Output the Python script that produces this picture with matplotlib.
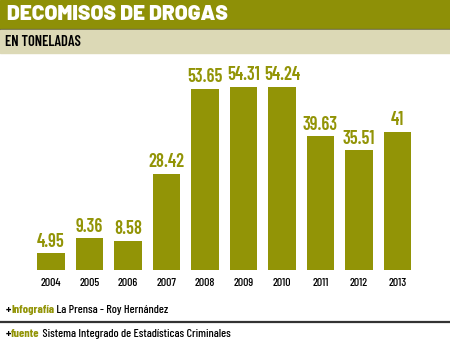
import matplotlib
matplotlib.use('Agg')
import matplotlib.pyplot as plt
from matplotlib.patches import Rectangle

years = ['2004', '2005', '2006', '2007', '2008', '2009', '2010', '2011', '2012', '2013']
values = [4.95, 9.36, 8.58, 28.42, 53.65, 54.31, 54.24, 39.63, 35.51, 41]
labels = ['4.95', '9.36', '8.58', '28.42', '53.65', '54.31', '54.24', '39.63', '35.51', '41']

olive = '#929406'
band = '#8e9007'
beige = '#dcd9b6'
narrow = ['Barlow Condensed', 'DejaVu Sans']

W, H = 450, 341
fig = plt.figure(figsize=(4.5, 3.41), dpi=100)

# header bands (pixel coords -> figure fraction)
def box(y0, y1, color):
    fig.patches.append(Rectangle((0, 1 - y1 / H), 1, (y1 - y0) / H, transform=fig.transFigure,
                                 color=color, zorder=0))

box(0, 29, band)
box(29, 30, '#6b6b40')
box(30, 53, beige)

fig.text(7 / W, 1 - 15 / H, 'DECOMISOS DE DROGAS', color='white', fontsize=15, fontweight=900,
         family=['Barlow', 'DejaVu Sans'], va='center', ha='left')
fig.text(5 / W, 1 - 42 / H, 'EN TONELADAS', color='black', fontsize=10.5, fontweight=600,
         family=narrow, va='center', ha='left')

# bars
ax = fig.add_axes([0, (H - 270) / H, 1, 210 / H])
x = range(len(years))
ax.bar(x, values, width=0.727, color=olive)
ax.set_xlim(-51 / 38.5, (W - 51) / 38.5)
ax.set_ylim(0, 210 / 3.37)
ax.axis('off')
for i, v in enumerate(values):
    ax.annotate(labels[i], (i, v), xytext=(0, 2), textcoords='offset points', ha='center', va='bottom',
                color=olive, fontsize=13.2, fontweight=600, family=narrow)
    ax.annotate(years[i], (i, 0), xytext=(0, -6), textcoords='offset points', ha='center', va='top',
                color='black', fontsize=8.5, fontweight=500, family=narrow)

# footer
fig.lines.append(plt.Line2D([0, 1], [1 - 322 / H, 1 - 322 / H], transform=fig.transFigure,
                            color='#333333', lw=1.6))

fig.canvas.draw()
r = fig.canvas.get_renderer()

def runs(y, parts):
    xp = 6
    for s, c, w in parts:
        t = fig.text(xp / W, 1 - y / H, s, color=c, fontsize=8.7, fontweight=w, family=narrow,
                     va='center', ha='left')
        xp += t.get_window_extent(r).width

runs(310, [('+', 'black', 'bold'), ('Infografía', olive, 'bold'), (' La Prensa - Roy Hernández', 'black', 500)])
runs(334, [('+', 'black', 'bold'), ('fuente', olive, 'bold'), (' Sistema Integrado de Estadísticas Criminales', 'black', 500)])

fig.savefig('out.png', dpi=100)
